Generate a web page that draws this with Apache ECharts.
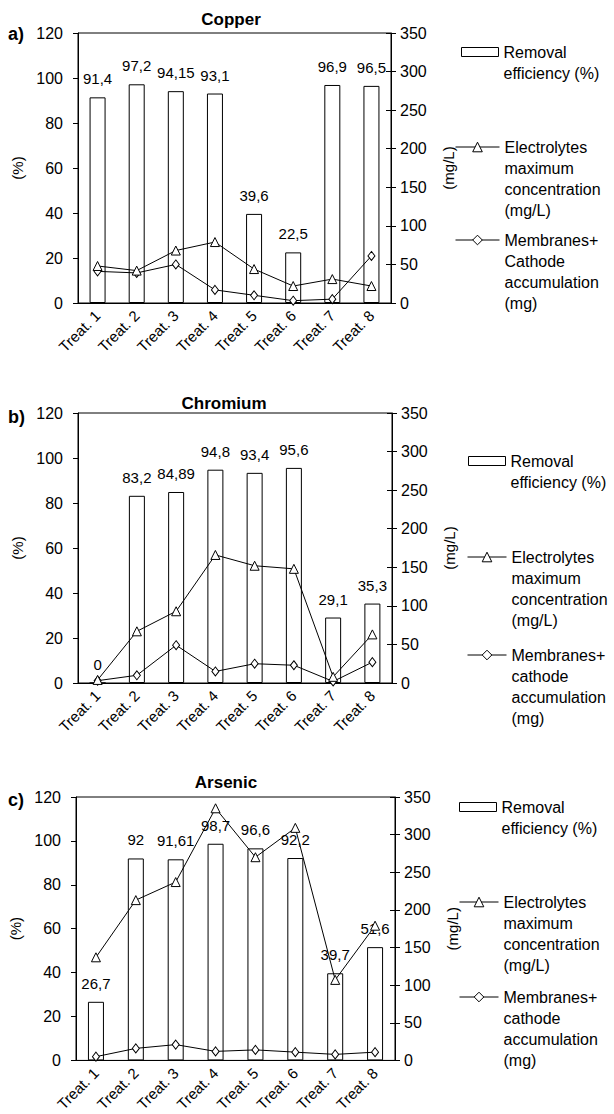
<!DOCTYPE html>
<html>
<head>
<meta charset="utf-8">
<script src="https://cdn.jsdelivr.net/npm/echarts@6/dist/echarts.min.js"></script>
<style>
  html, body { margin: 0; padding: 0; background: #fff; }
  #chart { width: 614px; height: 1114px; }
</style>
</head>
<body>
<div id="chart"></div>
<script>
// categories
const treatments = ['Treat. 1', 'Treat. 2', 'Treat. 3', 'Treat. 4', 'Treat. 5', 'Treat. 6', 'Treat. 7', 'Treat. 8'];

// a) Copper
const copperRemoval = [91.4, 97.2, 94.15, 93.1, 39.6, 22.5, 96.9, 96.5];
const copperElectrolytes = [48, 42, 68, 79, 44, 22, 31, 22];
const copperMembranes = [41, 39, 50, 17, 10, 3, 5, 61];

// b) Chromium
const chromiumRemoval = [0, 83.2, 84.89, 94.8, 93.4, 95.6, 29.1, 35.3];
const chromiumElectrolytes = [4, 67, 93, 166, 152, 148, 8, 63];
const chromiumMembranes = [3, 10, 49, 15, 25, 23, 2, 27];

// c) Arsenic
const arsenicRemoval = [26.7, 92, 91.61, 98.7, 96.6, 92.2, 39.7, 51.6];
const arsenicElectrolytes = [137, 213, 237, 335, 270, 309, 107, 179];
const arsenicMembranes = [5, 16, 21, 12, 14, 11, 8, 11];

// axes
const pctAxis = { min: 0, max: 120, interval: 20 };
const mglAxis = { min: 0, max: 350, interval: 50 };

const FONT = '"Liberation Sans", Arial, Helvetica, sans-serif';

// series / legend names
const NAME_REMOVAL = 'Removal efficiency (%)';
const NAME_ELECTRO = 'Electrolytes maximum concentration (mg/L)';
const legendText = {
  'Removal efficiency (%)': ['Removal', 'efficiency (%)'],
  'Electrolytes maximum concentration (mg/L)': ['Electrolytes', 'maximum', 'concentration', '(mg/L)'],
  'Membranes+ Cathode accumulation (mg)': ['Membranes+', 'Cathode', 'accumulation', '(mg)'],
  'Membranes+ cathode accumulation (mg)': ['Membranes+', 'cathode', 'accumulation', '(mg)']
};

// one entry per panel (layout only)
const panels = [
  {
    title: 'Copper', tag: 'a)', titleX: 231, titleY: 19, tagY: 34,
    grid: { left: 78, top: 33, width: 313, height: 270 },
    removal: copperRemoval, electro: copperElectrolytes, membr: copperMembranes,
    membName: 'Membranes+ Cathode accumulation (mg)',
    boxLeft: 461, lineLeft: 455, lineW: 44, legendY: [52, 147, 240]
  },
  {
    title: 'Chromium', tag: 'b)', titleX: 224, titleY: 403, tagY: 417,
    grid: { left: 78, top: 413, width: 314, height: 270 },
    removal: chromiumRemoval, electro: chromiumElectrolytes, membr: chromiumMembranes,
    membName: 'Membranes+ cathode accumulation (mg)',
    boxLeft: 468, lineLeft: 467, lineW: 39, legendY: [461, 557, 655]
  },
  {
    title: 'Arsenic', tag: 'c)', titleX: 226, titleY: 782, tagY: 800,
    grid: { left: 76, top: 797, width: 319, height: 271 },
    removal: arsenicRemoval, electro: arsenicElectrolytes, membr: arsenicMembranes,
    membName: 'Membranes+ cathode accumulation (mg)',
    boxLeft: 459, lineLeft: 459, lineW: 39, legendY: [807, 902, 997]
  }
];

const grid = [], xAxis = [], yAxis = [], series = [], legend = [], graphic = [];

panels.forEach(function (p, i) {
  grid.push(Object.assign({ show: true, borderColor: '#000', borderWidth: 1, backgroundColor: 'transparent' }, p.grid));

  xAxis.push({
    type: 'category', gridIndex: i, data: treatments,
    axisLine: { lineStyle: { color: '#000', width: 1 } },
    axisTick: { length: 4, lineStyle: { color: '#000' } },
    axisLabel: { rotate: 45, margin: 10, fontSize: 15, color: '#000', fontFamily: FONT, interval: 0 }
  });

  // left (%) axis
  yAxis.push(Object.assign({
    type: 'value', gridIndex: i, position: 'left',
    name: '(%)', nameLocation: 'middle', nameGap: 46, nameRotate: 90,
    nameTextStyle: { fontSize: 15, color: '#000', fontFamily: FONT },
    axisLine: { show: true, lineStyle: { color: '#000', width: 1 } },
    axisTick: { show: true, length: 5, lineStyle: { color: '#000' } },
    axisLabel: { margin: 15, fontSize: 16, color: '#000', fontFamily: FONT },
    splitLine: { show: false }
  }, pctAxis));

  // right (mg/L) axis, outer ticks + labels
  yAxis.push(Object.assign({
    type: 'value', gridIndex: i, position: 'right',
    name: '(mg/L)', nameLocation: 'middle', nameGap: 50, nameRotate: 90,
    nameTextStyle: { fontSize: 15, color: '#000', fontFamily: FONT },
    axisLine: { show: true, lineStyle: { color: '#000', width: 1 } },
    axisTick: { show: true, length: 5, lineStyle: { color: '#000' } },
    axisLabel: { margin: 9, fontSize: 16, color: '#000', fontFamily: FONT },
    splitLine: { show: false }
  }, mglAxis));

  // same right axis again, only for the inner half of the crossing ticks
  yAxis.push(Object.assign({
    type: 'value', gridIndex: i, position: 'right',
    axisLine: { show: false },
    axisTick: { show: true, inside: true, length: 5, lineStyle: { color: '#000' } },
    axisLabel: { show: false },
    splitLine: { show: false }
  }, mglAxis));

  series.push({
    name: NAME_REMOVAL, type: 'bar', xAxisIndex: i, yAxisIndex: i * 3,
    data: p.removal, barWidth: 16,
    itemStyle: { color: '#fff', borderColor: '#000', borderWidth: 1 },
    label: {
      show: true, position: 'top', distance: 11, fontSize: 15, color: '#000', fontFamily: FONT,
      formatter: function (d) { return String(d.value).replace('.', ','); }
    },
    z: 2
  });

  series.push({
    name: NAME_ELECTRO, type: 'line', xAxisIndex: i, yAxisIndex: i * 3 + 1,
    data: p.electro, symbol: 'triangle', symbolSize: 9, showAllSymbol: true,
    lineStyle: { color: '#000', width: 1 },
    itemStyle: { color: '#fff', borderColor: '#000', borderWidth: 1 },
    z: 4
  });

  series.push({
    name: p.membName, type: 'line', xAxisIndex: i, yAxisIndex: i * 3 + 1,
    data: p.membr, symbol: 'diamond', symbolSize: [7, 9], showAllSymbol: true,
    lineStyle: { color: '#000', width: 1 },
    itemStyle: { color: '#fff', borderColor: '#000', borderWidth: 1 },
    z: 3
  });

  // legends: the text block is centred on the icon, so blank lines are put
  // in front to bring the first real line level with the icon
  const entries = [
    { name: NAME_REMOVAL, left: p.boxLeft, w: 37, h: 9, icon: 'rect' },
    { name: NAME_ELECTRO, left: p.lineLeft, w: p.lineW, h: 12 },
    { name: p.membName, left: p.lineLeft, w: p.lineW, h: 12 }
  ];
  entries.forEach(function (e, k) {
    const lh = 21;
    const lines = legendText[e.name];
    const shown = new Array(lines.length - 1).fill(' ').concat(lines);
    const half = shown.length * lh / 2;
    const lg = {
      left: e.left, top: p.legendY[k] - half, padding: 0, itemGap: 0,
      orient: 'vertical', selectedMode: false,
      data: [e.name], itemWidth: e.w, itemHeight: e.h,
      lineStyle: { width: 1, color: '#000' },
      itemStyle: { borderWidth: 1, borderColor: '#000', color: '#fff' },
      formatter: function () { return shown.join('\n'); },
      textStyle: { fontSize: 16, color: '#000', fontFamily: FONT, lineHeight: lh }
    };
    if (e.icon) lg.icon = e.icon;
    legend.push(lg);
  });

  graphic.push({
    type: 'text', x: p.titleX, y: p.titleY,
    style: { text: p.title, textAlign: 'center', textVerticalAlign: 'middle', fill: '#000',
      font: 'bold 17px ' + FONT }
  });
  graphic.push({
    type: 'text', x: 8, y: p.tagY,
    style: { text: p.tag, textAlign: 'left', textVerticalAlign: 'middle', fill: '#000',
      font: 'bold 18px ' + FONT }
  });
});

const chart = echarts.init(document.getElementById('chart'), null, { renderer: 'svg' });
chart.setOption({
  animation: false,
  backgroundColor: '#fff',
  textStyle: { fontFamily: FONT },
  grid: grid,
  xAxis: xAxis,
  yAxis: yAxis,
  legend: legend,
  graphic: graphic,
  series: series
});
</script>
</body>
</html>
